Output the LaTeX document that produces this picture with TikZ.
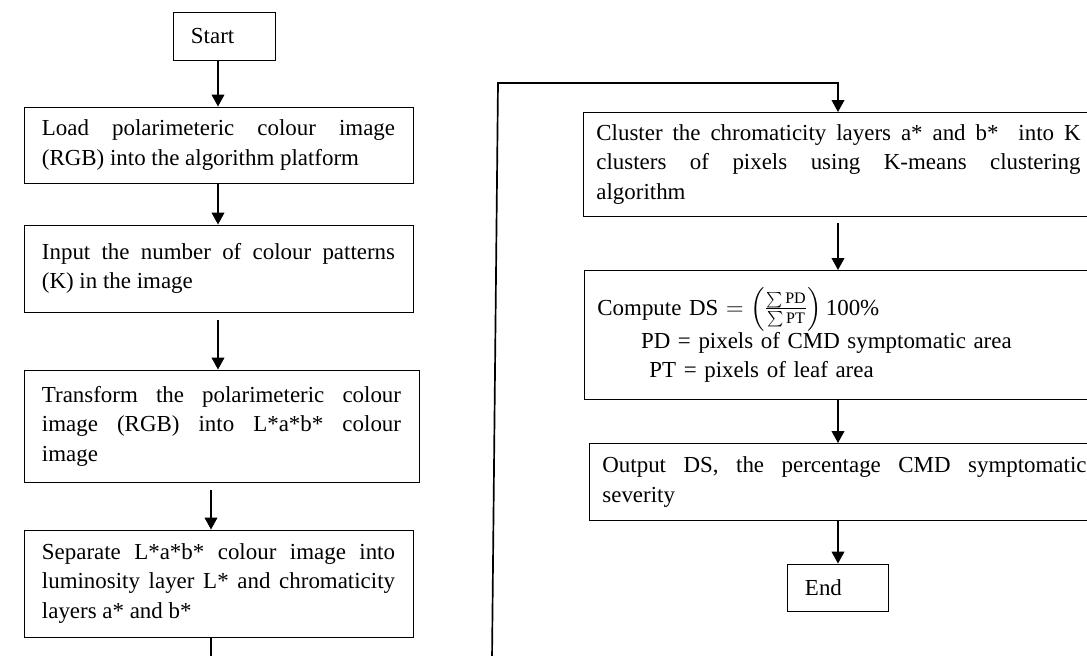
\documentclass[tikz,border=0pt]{standalone}
\usepackage{fontspec}
\setmainfont{Liberation Serif}
\usepackage{amsmath}
\usetikzlibrary{positioning, calc, arrows.meta}

\newcommand{\boxfont}{\fontsize{16.3}{21}\selectfont\hyphenpenalty=10000\relax\exhyphenpenalty=10000\relax}

\tikzset{
	procbox/.style={draw, rectangle, line width=0.6pt, inner xsep=0.45cm, inner ysep=3pt, align=justify, font=\boxfont},
	rightbox/.style={procbox, anchor=north west, inner xsep=0.325cm, text width=12.1cm},
	termbox/.style={draw, rectangle, line width=0.6pt, align=left, font=\boxfont},
	flow/.style={line width=1.2pt, -{Triangle[width=9pt, length=8.5pt]}},
}

\begin{document}
\begin{tikzpicture}[x=0.025cm, y=-0.025cm]
		\useasboundingbox (0,0) rectangle (1087,656);
		\clip (0,0) rectangle (1087,656);
		
		% left column
		\node (start) [termbox, minimum width=2.55cm, minimum height=1.2cm, text width=1.65cm] at (224,36) {Start};
		\node (load) [procbox, text width=8.825cm, minimum height=1.9cm] at (218.5,145) {Load polarimeteric colour image (RGB) into the algorithm platform};
		\node (input) [procbox, text width=8.825cm, minimum height=2.175cm] at (218.5,268.5) {Input the number of colour patterns\linebreak (K) in the image};
		\node (transform) [procbox, text width=8.975cm, minimum height=2.8cm] at (221.5,426) {Transform the polarimeteric colour image (RGB) into L*a*b* colour\linebreak image};
		\node (separate) [procbox, text width=8.825cm, minimum height=2.675cm] at (218.5,583.5) {Separate L*a*b* colour image into luminosity layer L* and chromaticity layers a* and b*};
		
		% right column
		\node (cluster) [rightbox, minimum height=2.6cm] at (583,112) {Cluster the chromaticity layers a* and b*~ into K\linebreak clusters of pixels using K-means clustering\linebreak algorithm};
		\node (ds) [rightbox, align=left, minimum height=3.225cm] at (584,270) {Compute DS $=\left(\frac{\sum\mathrm{PD}}{\sum\mathrm{PT}}\right)$\,100\%\\
			\hspace*{31pt}PD = pixels of CMD symptomatic area\\
			\hspace*{37pt}PT = pixels of leaf area};
		\node (output) [rightbox, minimum height=1.925cm] at (589,443) {Output DS, the percentage CMD symptomatic severity};
		\node (end) [termbox, minimum width=2.525cm, minimum height=1.175cm, text width=1.625cm] at (837.5,587.5) {End};
		
		% guide points
		\coordinate (lx) at (218,0);
		\coordinate (sx) at (211,0);
		\coordinate (rx) at (838,0);
		\coordinate (cutl) at (211,660);
		\coordinate (cutr) at (492,660);
		\coordinate (topr) at (498,83);
		
		\begin{scope}[flow]
			\draw (start.south -| lx) -- (load.north -| lx);
			\draw (load.south -| lx) -- (input.north -| lx);
			\draw [shorten <=0.2cm] (input.south -| lx) -- (transform.north -| lx);
			\draw [shorten <=0.2cm] (transform.south -| sx) -- (separate.north -| sx);
			\draw (cutr) -- (topr) -- (topr -| rx) -- (cluster.north -| rx);
			\draw [shorten <=0.15cm] (cluster.south -| rx) -- (ds.north -| rx);
			\draw (ds.south -| rx) -- (output.north -| rx);
			\draw (output.south -| rx) -- (end.north -| rx);
		\end{scope}
		\draw [line width=1.2pt] (separate.south -| sx) -- (cutl);
	\end{tikzpicture}
\end{document}
